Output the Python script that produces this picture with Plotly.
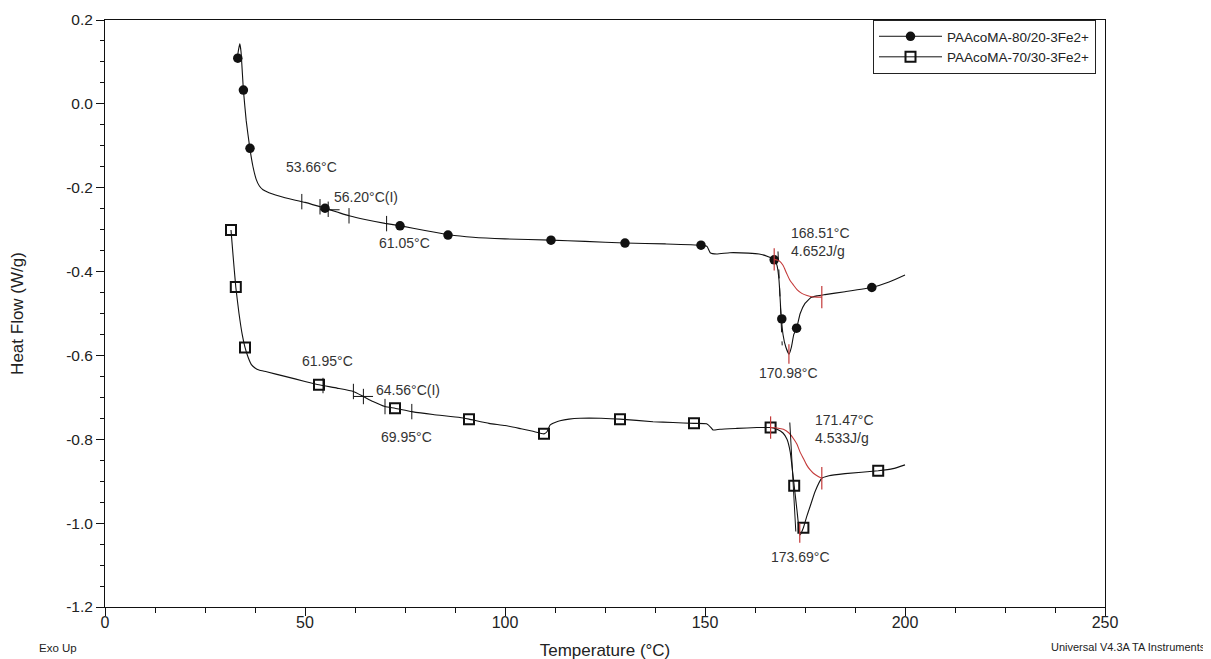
import numpy as np
import plotly.graph_objects as go

# ---------------- data ----------------
series_names = ["PAAcoMA-80/20-3Fe2+", "PAAcoMA-70/30-3Fe2+"]

# Series 1 : PAAcoMA-80/20-3Fe2+
s1_T = [33.0, 33.4, 33.7, 34.0, 34.6, 35.3, 36.2, 37.0, 37.8, 38.6, 39.5, 41.0, 45.0,
        50.0, 55.0, 58.0, 61.0, 65.0, 70.0, 74.0, 80.0, 86.0, 92.0, 100.0, 111.5, 120.0,
        130.0, 140.0, 149.0, 150.5, 151.3, 152.9, 156.2, 160.8, 163.5, 166.0, 167.3,
        168.0, 168.5, 169.0, 169.5, 170.2, 171.0, 171.6, 172.2, 172.9, 173.8, 175.0,
        176.5, 178.0, 180.0, 185.0, 191.7, 196.0, 200.0]
s1_HF = [0.105, 0.130, 0.143, 0.125, 0.033, -0.040, -0.105, -0.150, -0.180, -0.196, -0.205,
         -0.212, -0.224, -0.235, -0.249, -0.258, -0.267, -0.276, -0.285, -0.291, -0.302,
         -0.312, -0.318, -0.322, -0.325, -0.328, -0.332, -0.334, -0.337, -0.340, -0.355,
         -0.358, -0.355, -0.356, -0.358, -0.365, -0.371, -0.385, -0.420, -0.500, -0.550,
         -0.580, -0.597, -0.580, -0.550, -0.535, -0.500, -0.476, -0.462, -0.458, -0.455,
         -0.448, -0.438, -0.425, -0.408]
s1_mark_T = [33.2, 34.6, 36.25, 55.0, 73.75, 85.75, 111.5, 130.0, 149.0, 167.3, 169.2, 172.9, 191.7]
s1_mark_HF = [0.109, 0.033, -0.106, -0.249, -0.291, -0.313, -0.325, -0.332, -0.337, -0.372,
              -0.513, -0.535, -0.438]

# Series 2 : PAAcoMA-70/30-3Fe2+
s2_T = [31.5, 32.0, 32.7, 33.5, 34.3, 35.0, 35.8, 36.6, 37.5, 38.5, 40.4, 45.0, 50.0, 53.5,
        58.0, 62.1, 64.6, 67.0, 70.0, 72.5, 76.7, 82.0, 88.75, 91.0, 96.0, 100.0, 104.0,
        107.0, 109.75, 110.5, 111.25, 112.5, 113.75, 116.0, 118.75, 124.0, 128.75, 137.0,
        142.0, 147.25, 150.4, 151.5, 152.0, 153.75, 158.0, 163.0, 166.4, 168.0, 169.5,
        170.5, 171.3, 172.3, 173.0, 173.75, 174.6, 175.4, 176.25, 177.5, 179.2, 181.0,
        185.0, 193.3, 197.0, 200.0]
s2_HF = [-0.301, -0.360, -0.437, -0.500, -0.550, -0.581, -0.605, -0.622, -0.630, -0.635,
         -0.639, -0.650, -0.662, -0.670, -0.678, -0.686, -0.698, -0.710, -0.722, -0.726,
         -0.734, -0.741, -0.748, -0.752, -0.762, -0.767, -0.775, -0.781, -0.787, -0.782,
         -0.766, -0.760, -0.756, -0.752, -0.750, -0.750, -0.752, -0.758, -0.760, -0.762,
         -0.763, -0.772, -0.778, -0.776, -0.774, -0.772, -0.772, -0.776, -0.785, -0.800,
         -0.830, -0.911, -0.970, -1.028, -1.011, -0.985, -0.961, -0.925, -0.893, -0.887,
         -0.882, -0.875, -0.870, -0.861]
s2_mark_T = [31.5, 32.7, 35.0, 53.5, 72.5, 91.0, 109.75, 128.75, 147.25, 166.4, 172.3, 174.6, 193.3]
s2_mark_HF = [-0.301, -0.437, -0.581, -0.670, -0.726, -0.752, -0.787, -0.752, -0.762, -0.772,
              -0.911, -1.011, -0.875]

# Glass transition analysis tick temperatures (onset/limits, inflection)
s1_tg_ticks = [49.2, 53.75, 55.8, 61.0, 70.4]
s1_tg_inflection = [56.2]
s2_tg_ticks = [54.5, 62.1, 64.6, 70.0, 76.7]
s2_tg_inflection = [64.56]

# Melting peak integration: sigmoidal baselines
s1_base_T = [167.3, 168.5, 169.5, 170.4, 171.2, 172.1, 173.0, 174.2, 175.5, 176.7, 178.0, 179.2]
s1_base_HF = [-0.371, -0.374, -0.385, -0.404, -0.420, -0.432, -0.443, -0.452, -0.457, -0.460,
              -0.461, -0.461]
s2_base_T = [166.4, 168.0, 169.6, 171.0, 172.1, 173.0, 173.75, 174.6, 175.4, 176.2, 177.1, 178.2, 179.2]
s2_base_HF = [-0.772, -0.773, -0.776, -0.785, -0.798, -0.812, -0.830, -0.846, -0.861, -0.872,
              -0.881, -0.888, -0.893]
s1_peak_T = [170.98]
s2_peak_T = [173.69]

# Onset tangents
s1_tan_T = [168.25, 169.3]
s1_tan_HF = [-0.352, -0.576]
s2_tan_T = [171.2, 172.7]
s2_tan_HF = [-0.760, -1.020]

# Result labels
s1_labels = ["53.66°C", "56.20°C(I)", "61.05°C", "168.51°C", "4.652J/g", "170.98°C"]
s2_labels = ["61.95°C", "64.56°C(I)", "69.95°C", "171.47°C", "4.533J/g", "173.69°C"]

# Axes
x_tick_vals = [0, 50, 100, 150, 200, 250]
x_tick_text = ["0", "50", "100", "150", "200", "250"]
y_tick_vals = [0.2, 0.0, -0.2, -0.4, -0.6, -0.8, -1.0, -1.2]
y_tick_text = ["0.2", "0.0", "-0.2", "-0.4", "-0.6", "-0.8", "-1.0", "-1.2"]

# ---------------- figure ----------------
FONT = "Arial, Liberation Sans, Helvetica, sans-serif"
RED = "#c43a3a"
BLACK = "#111111"

fig = go.Figure()


def on_curve(T, curve_T, curve_HF):
    return list(np.interp(T, curve_T, curve_HF))


for (cT, cHF, mT, mHF, sym, name) in [
        (s1_T, s1_HF, s1_mark_T, s1_mark_HF, "circle", series_names[0]),
        (s2_T, s2_HF, s2_mark_T, s2_mark_HF, "square-open", series_names[1])]:
    fig.add_trace(go.Scatter(x=cT, y=cHF, mode="lines", showlegend=False,
                             line=dict(color=BLACK, width=1.1, shape="spline", smoothing=0.4),
                             hoverinfo="skip"))
    mk = dict(symbol=sym, color=BLACK, size=9.5 if sym == "circle" else 10,
              line=dict(color=BLACK, width=2 if sym != "circle" else 0))
    fig.add_trace(go.Scatter(x=mT, y=mHF, mode="markers", showlegend=False, marker=mk))
    # legend entry
    fig.add_trace(go.Scatter(x=[None], y=[None], mode="lines+markers", name=name,
                             line=dict(color=BLACK, width=1), marker=mk))

# baselines (red)
for bT, bHF in [(s1_base_T, s1_base_HF), (s2_base_T, s2_base_HF)]:
    fig.add_trace(go.Scatter(x=bT, y=bHF, mode="lines", showlegend=False,
                             line=dict(color=RED, width=1.1, shape="spline", smoothing=0.6)))
    fig.add_trace(go.Scatter(x=[bT[0], bT[-1]], y=[bHF[0], bHF[-1]], mode="markers",
                             showlegend=False,
                             marker=dict(symbol="line-ns", size=16, line=dict(color=RED, width=1.2))))

# peak ticks (red)
fig.add_trace(go.Scatter(x=s1_peak_T + s2_peak_T,
                         y=on_curve(s1_peak_T, s1_T, s1_HF) + on_curve(s2_peak_T, s2_T, s2_HF),
                         mode="markers", showlegend=False,
                         marker=dict(symbol="line-ns", size=14, line=dict(color=RED, width=1.2))))

# tangents
fig.add_trace(go.Scatter(x=s1_tan_T, y=s1_tan_HF, mode="lines", showlegend=False,
                         line=dict(color=BLACK, width=1, dash="dash")))
fig.add_trace(go.Scatter(x=s2_tan_T, y=s2_tan_HF, mode="lines", showlegend=False,
                         line=dict(color=BLACK, width=1)))

# glass transition ticks
for ticks, infl, cT, cHF in [(s1_tg_ticks, s1_tg_inflection, s1_T, s1_HF),
                             (s2_tg_ticks, s2_tg_inflection, s2_T, s2_HF)]:
    fig.add_trace(go.Scatter(x=ticks, y=on_curve(ticks, cT, cHF), mode="markers",
                             showlegend=False,
                             marker=dict(symbol="line-ns", size=11, line=dict(color=BLACK, width=1))))
    fig.add_trace(go.Scatter(x=infl, y=on_curve(infl, cT, cHF), mode="markers",
                             showlegend=False,
                             marker=dict(symbol="line-ew", size=14, line=dict(color=BLACK, width=1))))

# text labels
lab_font = dict(family=FONT, size=14, color="#333333")
label_pos = [  # (x, y, xanchor) for each label, series 1 then series 2
    (51.7, -0.150, "center"), (56.7, -0.221, "left"), (74.75, -0.333, "center"),
    (171.0, -0.308, "left"), (171.0, -0.350, "left"), (170.75, -0.641, "center"),
    (55.5, -0.613, "center"), (67.25, -0.682, "left"), (75.4, -0.794, "center"),
    (176.9, -0.754, "left"), (176.9, -0.796, "left"), (173.75, -1.080, "center"),
]
for txt, (x, y, xa) in zip(s1_labels + s2_labels, label_pos):
    fig.add_annotation(x=x, y=y, text=txt, showarrow=False, xanchor=xa, yanchor="middle",
                       font=lab_font)

fig.add_annotation(x=-0.068, y=-0.07, xref="paper", yref="paper", text="Exo Up",
                   showarrow=False, xanchor="left", yanchor="middle",
                   font=dict(family=FONT, size=11.5, color="#222222"))
fig.add_annotation(x=1.103, y=-0.068, xref="paper", yref="paper",
                   text="Universal V4.3A TA Instruments", showarrow=False,
                   xanchor="right", yanchor="middle",
                   font=dict(family=FONT, size=11, color="#222222"))

# the page body adds an 8 px offset; margins are set so the plot area lands at
# x 105..1105 and y 20..607 in the browser window
fig.update_layout(
    width=1211, height=659,
    margin=dict(l=97, r=114, t=12, b=60, autoexpand=False),
    paper_bgcolor="white", plot_bgcolor="white",
    font=dict(family=FONT, color="#222222"),
    legend=dict(x=0.768, y=1.0, xanchor="left", yanchor="top",
                bordercolor="#222222", borderwidth=1, bgcolor="white",
                font=dict(family=FONT, size=13.5, color="#222222"),
                itemwidth=63, tracegroupgap=0),
    xaxis=dict(range=[0, 250], tickvals=x_tick_vals, ticktext=x_tick_text,
               automargin=False, ticklabelstandoff=-7,
               ticks="outside", ticklen=8, tickwidth=1, tickcolor=BLACK,
               minor=dict(dtick=12.5, tick0=0, ticks="outside", ticklen=5, tickcolor=BLACK),
               showline=True, linecolor=BLACK, linewidth=1, mirror=True,
               showgrid=False, zeroline=False,
               tickfont=dict(family=FONT, size=16, color="#222222"),
               title=dict(text="Temperature (°C)", standoff=13,
                          font=dict(family=FONT, size=17, color="#222222"))),
    yaxis=dict(range=[-1.2, 0.2], tickvals=y_tick_vals, ticktext=y_tick_text,
               automargin=False,
               ticks="outside", ticklen=8, tickwidth=1, tickcolor=BLACK,
               minor=dict(dtick=0.05, tick0=0, ticks="outside", ticklen=4, tickcolor=BLACK),
               showline=True, linecolor=BLACK, linewidth=1, mirror=True,
               showgrid=False, zeroline=False,
               tickfont=dict(family=FONT, size=15.5, color="#222222"),
               title=dict(text="Heat Flow (W/g)", standoff=38,
                          font=dict(family=FONT, size=17, color="#222222"))),
)

fig.write_html("out.html")
